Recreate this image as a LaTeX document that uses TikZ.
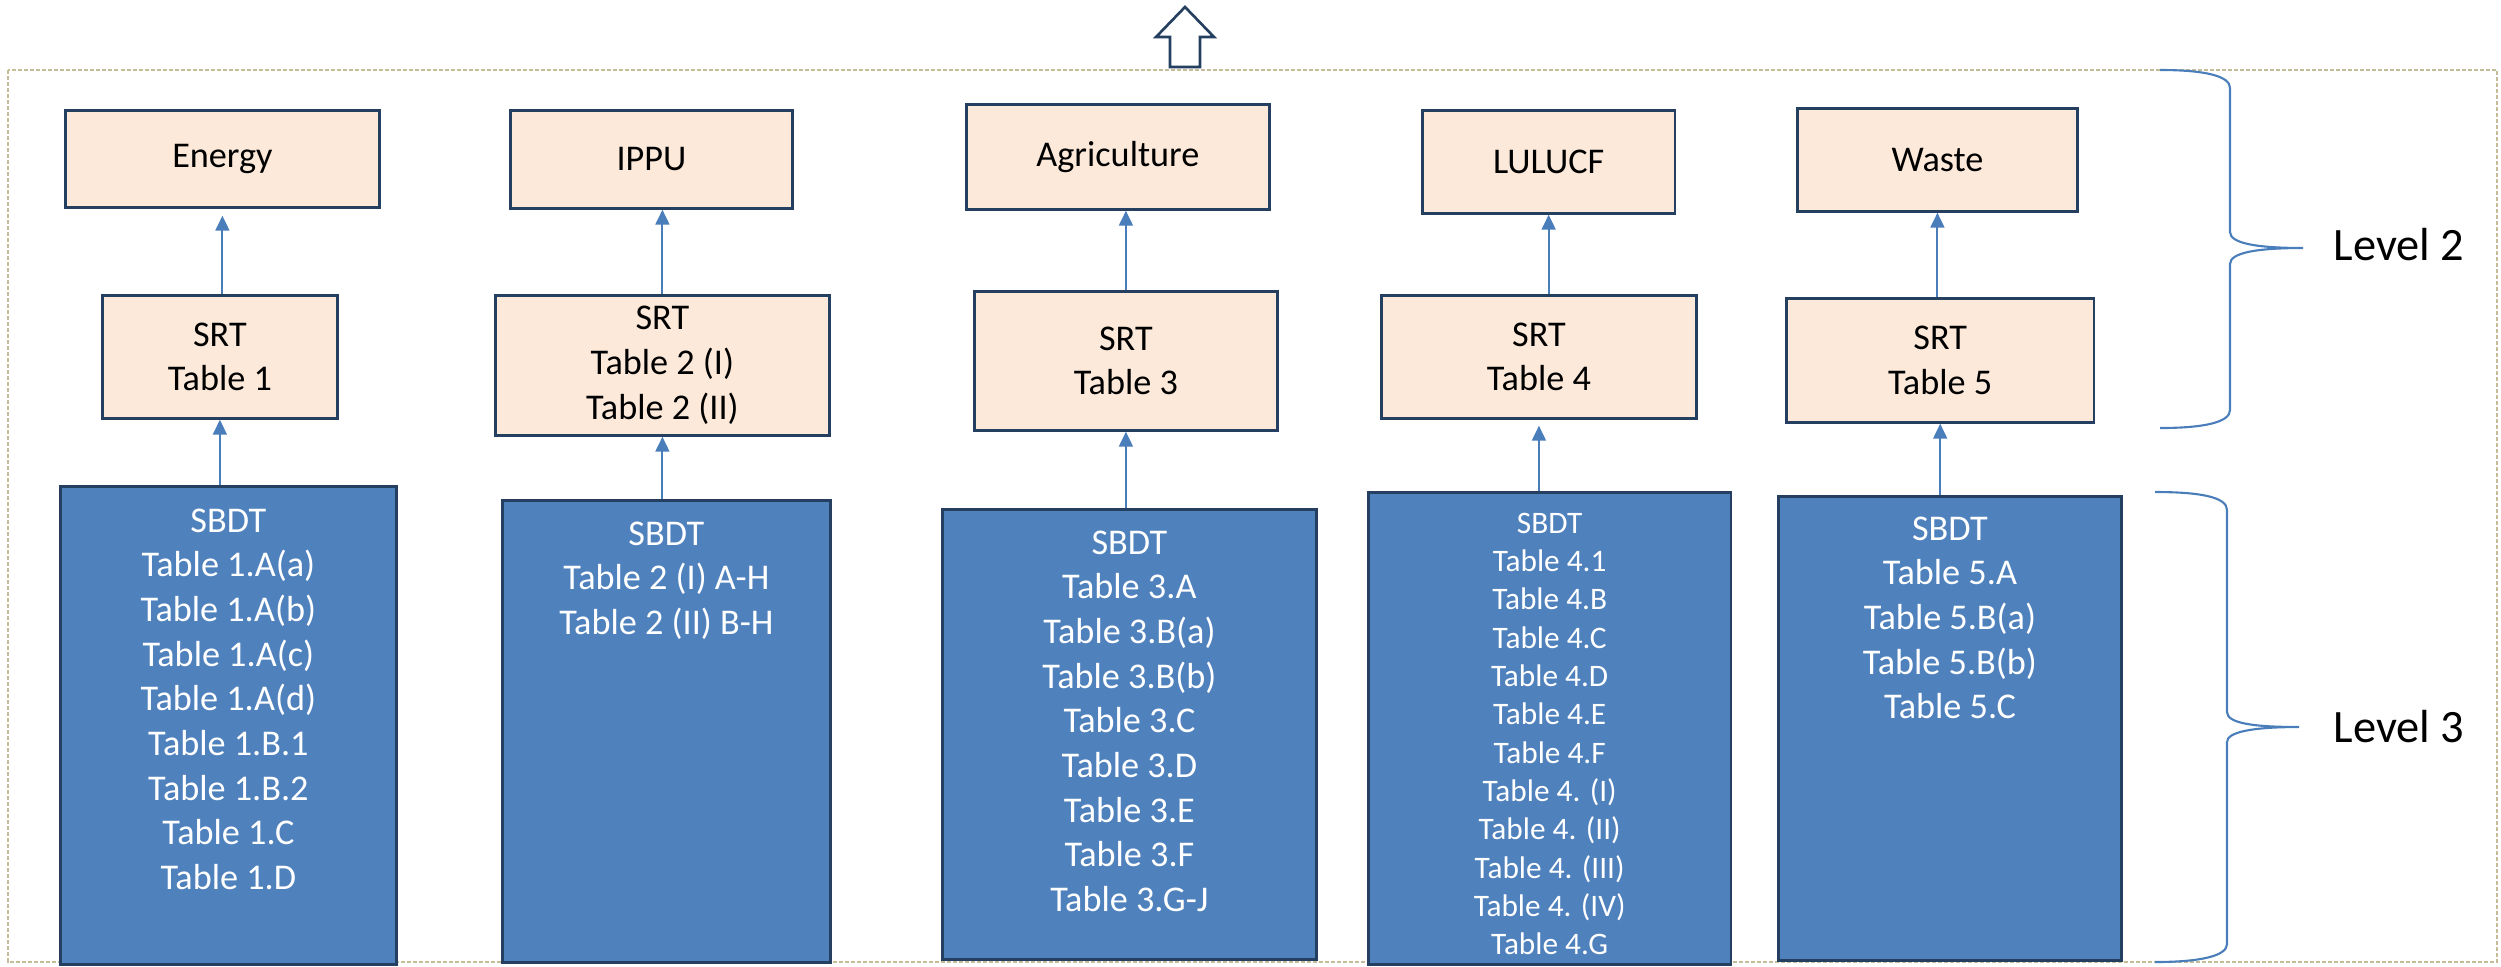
\documentclass[tikz,border=0pt]{standalone}
\usepackage{fontspec}
\setmainfont{Carlito}
\usetikzlibrary{arrows.meta}
\definecolor{peach}{HTML}{FCE9DA}
\definecolor{navy}{HTML}{243F60}
\definecolor{sbdtblue}{HTML}{4F81BD}
\definecolor{arrowblue}{HTML}{4A7EBB}
\definecolor{frametan}{HTML}{C4BD97}
\begin{document}
\begin{tikzpicture}[x=0.01cm,y=-0.01cm,
  peachbox/.style={draw=navy, fill=peach, line width=0.75pt, inner sep=0pt, anchor=north west, align=center, font=\fontsize{10.3}{12.7}\selectfont},
  sbdtbox/.style={draw=navy, fill=sbdtblue, line width=0.75pt, inner sep=0pt, anchor=north west},
  sbdttext/.style={text=white, align=center, inner sep=0pt, anchor=north, font=\fontsize{10.3}{12.7}\selectfont},
  link/.style={draw=arrowblue, line width=0.55pt, -{Triangle[length=0.15cm,width=0.14cm]}},
  bracepath/.style={draw=arrowblue, line width=0.6pt},
  leveltext/.style={font=\fontsize{13.2}{16}\selectfont, anchor=west, inner sep=0pt}
]
\useasboundingbox (0,0) rectangle (2501,966);
% dashed frame
\draw[frametan, line width=0.6pt, dash pattern=on 0.04cm off 0.02cm] (8,70) rectangle (2497,962);
% hollow up arrow
\draw[navy, fill=white, line width=0.75pt] (1170,67) -- (1170,37) -- (1156,37) -- (1185,7) -- (1214,37) -- (1200,37) -- (1200,67) -- cycle;

% level 1 sector boxes
\node[peachbox, minimum width=3.14cm, minimum height=0.97cm] (energy) at (64,109) {Energy};
\node[peachbox, minimum width=2.82cm, minimum height=0.98cm] (ippu) at (509,109) {IPPU};
\node[peachbox, minimum width=3.03cm, minimum height=1.05cm] (agri) at (965,103) {Agriculture};
\node[peachbox, minimum width=2.525cm, minimum height=1.03cm] (lulucf) at (1421,109) {LULUCF};
\node[peachbox, minimum width=2.80cm, minimum height=1.03cm] (waste) at (1796,107) {Waste};

% SRT boxes
\node[peachbox, minimum width=2.35cm, minimum height=1.23cm] (srt1) at (101,294) {SRT\\Table 1};
\node[peachbox, minimum width=3.34cm, minimum height=1.40cm] (srt2) at (494,294) {SRT\\Table 2 (I)\\Table 2 (II)};
\node[peachbox, minimum width=3.03cm, minimum height=1.39cm] (srt3) at (973,290) {SRT\\Table 3};
\node[peachbox, minimum width=3.15cm, minimum height=1.23cm] (srt4) at (1380,294) {SRT\\Table 4};
\node[peachbox, minimum width=3.075cm, minimum height=1.24cm] (srt5) at (1785,297) {SRT\\Table 5};

% SBDT boxes
\node[sbdtbox, minimum width=3.36cm, minimum height=4.78cm] (sbdt1) at (59,485) {};
\node[sbdtbox, minimum width=3.28cm, minimum height=4.62cm] (sbdt2) at (501,499) {};
\node[sbdtbox, minimum width=3.74cm, minimum height=4.50cm] (sbdt3) at (941,508) {};
\node[sbdtbox, minimum width=3.625cm, minimum height=4.72cm] (sbdt4) at (1367,491) {};
\node[sbdtbox, minimum width=3.43cm, minimum height=4.64cm] (sbdt5) at (1777,495) {};

\node[sbdttext] (txt1) at ([yshift=-0.23cm]sbdt1.north) {SBDT\\Table 1.A(a)\\Table 1.A(b)\\Table 1.A(c)\\Table 1.A(d)\\Table 1.B.1\\Table 1.B.2\\Table 1.C\\Table 1.D};
\node[sbdttext] (txt2) at ([yshift=-0.22cm]sbdt2.north) {SBDT\\Table 2 (I) A-H\\Table 2 (II) B-H};
\node[sbdttext] (txt3) at ([yshift=-0.22cm]sbdt3.north) {SBDT\\Table 3.A\\Table 3.B(a)\\Table 3.B(b)\\Table 3.C\\Table 3.D\\Table 3.E\\Table 3.F\\Table 3.G-J};
\node[sbdttext, font=\fontsize{8.9}{10.9}\selectfont] (txt4) at ([yshift=-0.21cm]sbdt4.north) {SBDT\\Table 4.1\\Table 4.B\\Table 4.C\\Table 4.D\\Table 4.E\\Table 4.F\\Table 4. (I)\\Table 4. (II)\\Table 4. (III)\\Table 4. (IV)\\Table 4.G};
\node[sbdttext] (txt5) at ([yshift=-0.21cm]sbdt5.north) {SBDT\\Table 5.A\\Table 5.B(a)\\Table 5.B(b)\\Table 5.C};

% connectors SRT -> sector
\draw[link, shorten >=0.07cm] (energy.south |- srt1.north) -- (energy.south);
\draw[link] (srt2.north) -- (srt2.north |- ippu.south);
\draw[link] (srt3.north) -- (srt3.north |- agri.south);
\draw[link] (lulucf.south |- srt4.north) -- (lulucf.south);
\draw[link] (waste.south |- srt5.north) -- (waste.south);

% connectors SBDT -> SRT
\draw[link] (srt1.south |- sbdt1.north) -- (srt1.south);
\draw[link] (srt2.south |- sbdt2.north) -- (srt2.south);
\draw[link] (srt3.south |- sbdt3.north) -- (srt3.south);
\draw[link, shorten >=0.06cm] (srt4.south |- sbdt4.north) -- (srt4.south);
\draw[link] (srt5.south |- sbdt5.north) -- (srt5.south);

% braces
\draw[bracepath] (2160,70) .. controls (2205,70) and (2230,76) .. (2230,88)
  -- (2230,232) .. controls (2230,243) and (2255,248) .. (2303,248)
  .. controls (2255,248) and (2230,253) .. (2230,264)
  -- (2230,410) .. controls (2230,422) and (2205,428) .. (2160,428);
\draw[bracepath] (2155,492) .. controls (2200,492) and (2227,497) .. (2227,510)
  -- (2227,712) .. controls (2227,723) and (2252,727) .. (2299,727)
  .. controls (2252,727) and (2227,732) .. (2227,742)
  -- (2227,944) .. controls (2227,956) and (2200,962) .. (2155,962);

\node[leveltext] (lev2) at (2333,245) {Level 2};
\node[leveltext] (lev3) at (2333,727) {Level 3};
\end{tikzpicture}
\end{document}
